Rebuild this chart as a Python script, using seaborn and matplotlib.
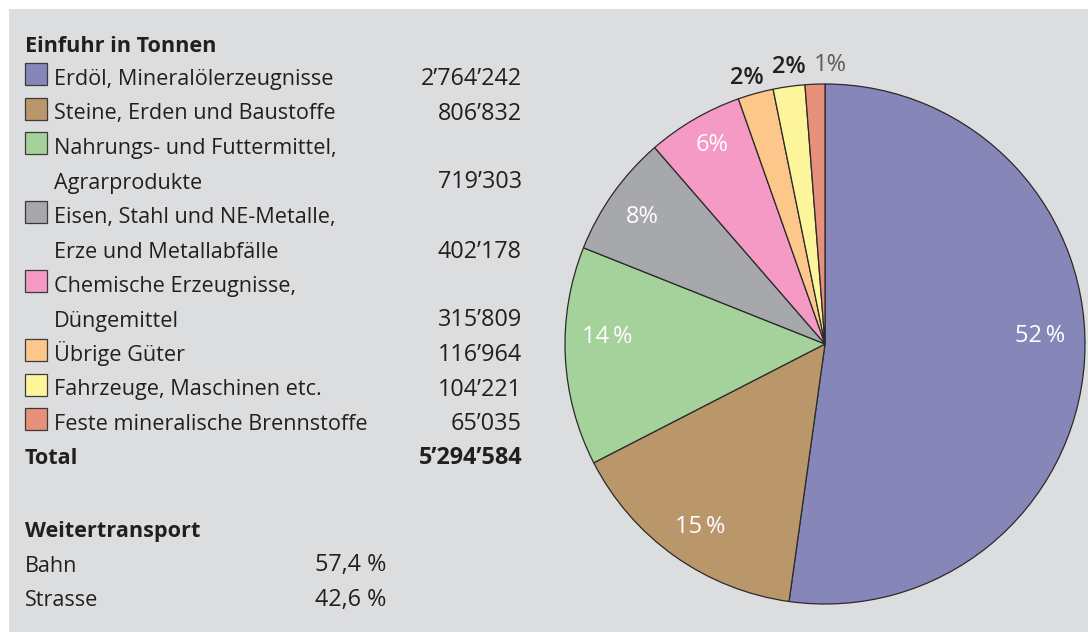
import matplotlib
matplotlib.use("Agg")
import matplotlib.pyplot as plt
import seaborn as sns
import numpy as np
from matplotlib.patches import Rectangle

sns.set_theme(style="white")
plt.rcParams['font.family'] = ['Open Sans', 'DejaVu Sans']

# ---- data ----
categories = [
    ["Erdöl, Mineralölerzeugnisse"],
    ["Steine, Erden und Baustoffe"],
    ["Nahrungs- und Futtermittel,", "Agrarprodukte"],
    ["Eisen, Stahl und NE-Metalle,", "Erze und Metallabfälle"],
    ["Chemische Erzeugnisse,", "Düngemittel"],
    ["Übrige Güter"],
    ["Fahrzeuge, Maschinen etc."],
    ["Feste mineralische Brennstoffe"],
]
tonnes = [2764242, 806832, 719303, 402178, 315809, 116964, 104221, 65035]
tonnes_labels = ["2’764’242", "806’832", "719’303", "402’178", "315’809", "116’964", "104’221", "65’035"]
pct_labels = ["52\u2009%", "15\u2009%", "14\u2009%", "8%", "6%", "2%", "2%", "1%"]
total_label = "5’294’584"
transport = ["Bahn", "Strasse"]
transport_pct = ["57,4 %", "42,6 %"]

colors = sns.color_palette(["#8786b8", "#b9976a", "#a5d19b", "#a7a8ab",
                            "#f49ac4", "#fdc78b", "#fdf59b", "#e8917a"])
# label layout (radius as fraction of pie radius, angular nudge in degrees)
label_r = [0.827, 0.852, 0.84, 0.857, 0.88, 1.066, 1.074, 1.073]
label_nudge = [6.0, 1.0, -4.5, 0.6, -0.6, 0.8, -0.5, -3.2]
label_col = ["white"] * 5 + ["#231f20", "#231f20", "#5a5a5a"]
label_w = ["normal"] * 5 + ["semibold", "semibold", "normal"]

W, H = 1088, 632
fig = plt.figure(figsize=(W / 100, H / 100), dpi=100)
fig.patch.set_facecolor("white")

bg = fig.add_axes([0, 0, 1, 1])
bg.set_xlim(0, W)
bg.set_ylim(H, 0)
bg.axis("off")
bg.add_patch(Rectangle((9, 9), W, H, facecolor="#dcdddf", edgecolor="none"))

txt = "#231f20"
fs = 15.6
fsn = 16.8
bg.text(25, 52, "Einfuhr in Tonnen", fontsize=fs, fontweight="bold", color=txt, va="baseline")
row = 0
step = 34.5
base0 = 85
for cat, lab, col in zip(categories, tonnes_labels, colors):
    y = base0 + row * step
    bg.add_patch(Rectangle((25, y - 22), 22, 22, facecolor=col, edgecolor="#3a3a3a", lw=0.9))
    for j, line in enumerate(cat):
        bg.text(54, y + j * step, line, fontsize=fs, color=txt, va="baseline")
    bg.text(522, y + (len(cat) - 1) * step, lab, fontsize=fsn, color=txt, va="baseline", ha="right")
    row += len(cat)
y = base0 + row * step
bg.text(25, y, "Total", fontsize=fs, fontweight="bold", color=txt, va="baseline")
bg.text(522, y, total_label, fontsize=fsn, fontweight="bold", color=txt, va="baseline", ha="right")

bg.text(25, 537, "Weitertransport", fontsize=fs, fontweight="bold", color=txt, va="baseline")
for k, (t, p) in enumerate(zip(transport, transport_pct)):
    bg.text(25, 571.5 + k * step, t, fontsize=fs, color=txt, va="baseline")
    bg.text(386, 571.5 + k * step, p, fontsize=fsn, color=txt, va="baseline", ha="right")

# pie
cx, cy, R = 825, 344, 260
ax = fig.add_axes([(cx - R) / W, (H - cy - R) / H, 2 * R / W, 2 * R / H])
wedges, _ = ax.pie(tonnes, colors=colors, startangle=90, counterclock=False,
                   wedgeprops=dict(edgecolor="#2a2a2a", linewidth=0.9))
ax.set_xlim(-1, 1)
ax.set_ylim(-1, 1)
ax.set_aspect("equal")
ax.axis("off")
for w, lab, r, dn, c, fw in zip(wedges, pct_labels, label_r, label_nudge, label_col, label_w):
    ang = np.deg2rad((w.theta1 + w.theta2) / 2 + dn)
    ax.text(r * np.cos(ang), r * np.sin(ang), lab, ha="center", va="center",
            color=c, fontsize=17, fontweight=fw, clip_on=False)

fig.savefig("out.png", dpi=100, facecolor=fig.get_facecolor())
